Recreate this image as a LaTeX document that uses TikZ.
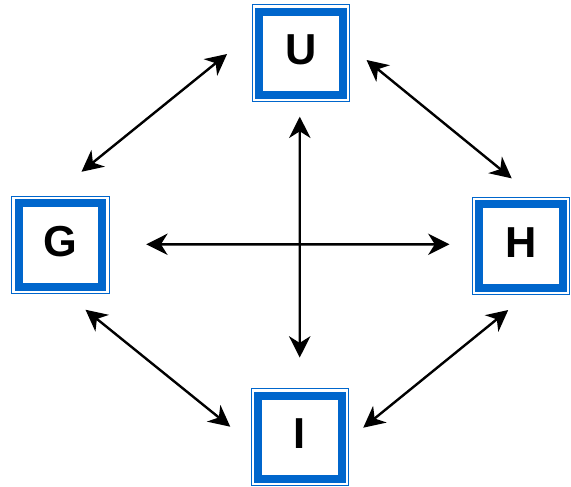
\documentclass[tikz,border=0pt]{standalone}
\usepackage{fontspec}
\setmainfont{Liberation Sans}
\usetikzlibrary{arrows.meta, calc}
\definecolor{boxblue}{RGB}{0,102,204}

\begin{document}
\begin{tikzpicture}[x=0.75pt, y=-0.75pt, >={Stealth[length=16pt, width=16pt, inset=5pt]},
        station/.style={draw=boxblue, fill=white, line width=6pt, minimum size=62.6pt, inner sep=0pt, text height=23.3pt, text depth=6pt, font=\fontsize{32.5}{39}\selectfont\bfseries},
        outerframe/.style={draw=boxblue, line width=0.75pt},
        link/.style={<->, line width=1.8pt}]

        \useasboundingbox (0, 0) rectangle (571, 486);

        \node[station] (U) at (300.8, 53.4) {U};
        \node[station] (G) at (60.5, 245) {G};
        \node[station] (H) at (521.2, 245.8) {H};
        \node[station] (I) at (300, 437.3) {I};

        \foreach \n in {U, G, H, I} {
            \draw[outerframe] ([shift={(-2.1pt, 2.1pt)}]\n.north west) rectangle ([shift={(2.1pt, -2.1pt)}]\n.south east);
        }

        \draw[link] ($(U.west) + (-28, 0.6)$) -- ($(G.north) + (21, -27.5)$);
        \draw[link] ($(U.east) + (20, 6.6)$) -- ($(H.north) + (-9.5, -21.7)$);
        \draw[link] ($(G.south) + (25, 19)$) -- ($(I.west) + (-24, -10.6)$);
        \draw[link] ($(H.south) + (-13, 18.5)$) -- ($(I.east) + (17.5, -9.6)$);
        \draw[link] ($(U.south) + (-1, 17.5)$) -- ($(I.north) + (-0.3, -34)$);
        \draw[link] ($(G.east) + (40, -0.7)$) -- ($(H.west) + (-26, -1.5)$);
\end{tikzpicture}
\end{document}
